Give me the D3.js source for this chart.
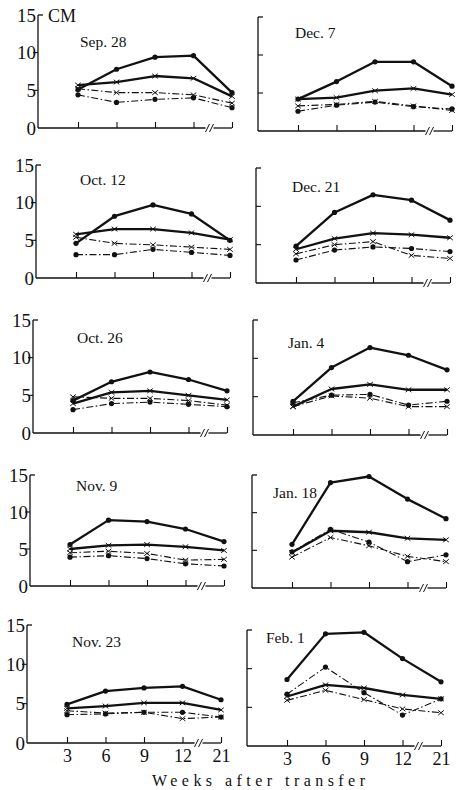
<!DOCTYPE html>
<html>
<head>
<meta charset="utf-8">
<script src="https://cdn.jsdelivr.net/npm/d3@7"></script>
<style>
  body { margin: 0; background: #fff; }
  svg { display: block; }
  text { font-family: "Liberation Serif", "DejaVu Serif", serif; fill: #111; }
</style>
</head>
<body>
<svg width="461" height="790"></svg>
<script>
// panels: left column top to bottom, then right column
var panels = ["Sep. 28", "Oct. 12", "Oct. 26", "Nov. 9", "Nov. 23",
              "Dec. 7", "Dec. 21", "Jan. 4", "Jan. 18", "Feb. 1"];
var weeks = ["3", "6", "9", "12", "21"];
var yTicks = [0, 5, 10, 15];

// solid line, filled dots
var seriesA = [
  [5.1, 7.8, 9.4, 9.6, 4.7],
  [4.6, 8.2, 9.7, 8.5, 5.0],
  [4.3, 6.8, 8.1, 7.1, 5.6],
  [5.6, 8.9, 8.7, 7.7, 6.0],
  [4.9, 6.6, 7.0, 7.2, 5.5],
  [4.2, 6.5, 9.1, 9.1, 5.9],
  [4.8, 9.2, 11.5, 10.8, 8.2],
  [4.4, 8.8, 11.4, 10.4, 8.5],
  [5.8, 14.0, 14.8, 11.8, 9.2],
  [8.6, 14.5, 14.7, 11.3, 8.3]
];
// solid line, crosses
var seriesB = [
  [5.7, 6.1, 6.9, 6.6, 4.2],
  [5.8, 6.5, 6.5, 6.0, 5.1],
  [3.9, 5.4, 5.6, 5.0, 4.4],
  [5.0, 5.5, 5.6, 5.3, 4.8],
  [4.4, 4.7, 5.1, 5.1, 4.2],
  [4.2, 4.4, 5.3, 5.6, 4.8],
  [4.4, 5.8, 6.5, 6.3, 5.9],
  [3.7, 6.0, 6.6, 5.9, 5.9],
  [4.7, 7.6, 7.4, 6.6, 6.4],
  [6.4, 7.9, 7.5, 6.6, 6.1]
];
// dash-dot line, crosses
var seriesC = [
  [5.2, 4.7, 4.7, 4.4, 3.3],
  [5.4, 4.6, 4.4, 4.1, 3.8],
  [4.8, 4.6, 4.6, 4.3, 3.7],
  [4.5, 4.7, 4.4, 3.5, 3.6],
  [4.1, 3.8, 3.9, 3.1, 3.3],
  [3.3, 3.5, 3.9, 3.3, 2.7],
  [3.8, 5.0, 5.4, 3.6, 3.2],
  [3.7, 5.1, 4.8, 3.7, 3.7],
  [4.1, 6.7, 5.6, 4.2, 3.5],
  [5.9, 7.2, 6.0, 4.8, 4.3]
];
// dash-dot line, filled dots
var seriesD = [
  [4.4, 3.4, 3.8, 4.0, 2.7],
  [3.1, 3.1, 3.8, 3.4, 3.0],
  [3.1, 3.9, 4.1, 3.8, 3.5],
  [3.9, 4.1, 3.7, 3.0, 2.7],
  [3.6, 3.7, 3.9, 3.9, 3.3],
  [2.6, 3.4, 3.8, 3.2, 2.9],
  [3.0, 4.3, 4.7, 4.5, 4.1],
  [4.2, 5.2, 5.3, 3.9, 4.4],
  [4.8, 7.8, 6.1, 3.5, 4.4],
  [6.7, 10.2, 6.9, 4.0, 6.1]
];

// panel frames (y-axis x, top of 15, zero line) and title anchors
var frames = [
  {x0: 38, top: 15, bottom: 128, tx: 80, ty: 47},
  {x0: 36, top: 165, bottom: 278, tx: 80, ty: 185},
  {x0: 33, top: 320, bottom: 433, tx: 77, ty: 343},
  {x0: 30, top: 475, bottom: 586, tx: 76, ty: 491},
  {x0: 27, top: 625, bottom: 743, tx: 72, ty: 647},
  {x0: 258, top: 17, bottom: 131, tx: 295, ty: 38},
  {x0: 256, top: 168, bottom: 283, tx: 292, ty: 192},
  {x0: 253, top: 320, bottom: 435, tx: 288, ty: 348},
  {x0: 252, top: 475, bottom: 588, tx: 273, ty: 498},
  {x0: 247, top: 630, bottom: 746, tx: 266, ty: 643}
];

var svg = d3.select("svg");
var ink = "#111";

var styles = [
  {data: seriesA, width: 2.3, dash: null, mark: "dot"},
  {data: seriesB, width: 2.3, dash: null, mark: "cross"},
  {data: seriesC, width: 1.1, dash: "7,2.5,1.5,2.5", mark: "cross"},
  {data: seriesD, width: 1.1, dash: "7,2.5,1.5,2.5", mark: "dot"}
];

panels.forEach(function(name, i) {
  var f = frames[i];
  var left = i < 5;
  var bottomRow = (i % 5) == 4;

  var x = d3.scalePoint()
      .domain(weeks)
      .range([f.x0 + 40, f.x0 + 194]);

  var y = d3.scaleLinear()
      .domain([0, 15])
      .range([f.bottom, f.top]);

  var g = svg.append("g").attr("class", "panel");

  // y axis line
  g.append("line")
      .attr("x1", f.x0).attr("x2", f.x0)
      .attr("y1", y(15)).attr("y2", y(0))
      .attr("stroke", ink).attr("stroke-width", 1.3);

  // top tick points inward, middle ticks outward on the left column
  g.append("line")
      .attr("x1", f.x0).attr("x2", f.x0 + 5)
      .attr("y1", y(15)).attr("y2", y(15))
      .attr("stroke", ink).attr("stroke-width", 1.3);

  [5, 10].forEach(function(v) {
    g.append("line")
        .attr("x1", f.x0).attr("x2", left ? f.x0 - 5 : f.x0 + 5)
        .attr("y1", y(v)).attr("y2", y(v))
        .attr("stroke", ink).attr("stroke-width", 1.1);
  });

  if (left) {
    var ya = g.append("g")
        .attr("transform", "translate(" + f.x0 + ",0)")
        .call(d3.axisLeft(y).tickValues(yTicks).tickSize(0).tickPadding(2));
    ya.select(".domain").remove();
    ya.selectAll("text")
        .style("font-size", "19px")
        .attr("font-family", null);
  }

  if (i == 0) {
    g.append("text")
        .attr("x", f.x0 + 10)
        .attr("y", y(15) + 7)
        .style("font-size", "18px")
        .text("CM");
  }

  // x axis with ticks pointing up
  var xa = g.append("g")
      .attr("transform", "translate(0," + f.bottom + ")")
      .call(d3.axisBottom(x).tickSizeInner(-6).tickSizeOuter(0).tickPadding(6)
        .tickFormat(bottomRow ? null : function() { return ""; }));
  xa.select(".domain").remove();
  xa.selectAll("line").attr("stroke", ink).attr("stroke-width", 1.1);
  xa.selectAll("text")
      .style("font-size", "18px")
      .attr("font-family", null);

  // axis line with a break between 12 and 21
  var bx = x("12") + 16;
  g.append("line")
      .attr("x1", f.x0).attr("x2", bx - 4)
      .attr("y1", f.bottom).attr("y2", f.bottom)
      .attr("stroke", ink).attr("stroke-width", 1.3);
  g.append("line")
      .attr("x1", bx + 4).attr("x2", x("21"))
      .attr("y1", f.bottom).attr("y2", f.bottom)
      .attr("stroke", ink).attr("stroke-width", 1.3);
  [-2, 2].forEach(function(o) {
    g.append("line")
        .attr("x1", bx + o - 2).attr("y1", f.bottom + 4)
        .attr("x2", bx + o + 2).attr("y2", f.bottom - 4)
        .attr("stroke", ink).attr("stroke-width", 1);
  });

  // title
  g.append("text")
      .attr("x", f.tx)
      .attr("y", f.ty)
      .style("font-size", "15.5px")
      .text(name);

  var line = d3.line()
      .x(function(d, j) { return x(weeks[j]); })
      .y(function(d) { return y(d); });

  styles.slice().reverse().forEach(function(s) {
    var vals = s.data[i];
    g.append("path")
        .datum(vals)
        .attr("d", line)
        .attr("fill", "none")
        .attr("stroke", ink)
        .attr("stroke-width", s.width)
        .attr("stroke-linejoin", "round")
        .attr("stroke-dasharray", s.dash);

    var m = g.selectAll(null)
        .data(vals)
        .enter().append("g")
        .attr("transform", function(d, j) {
          return "translate(" + x(weeks[j]) + "," + y(d) + ")";
        });

    if (s.mark == "dot") {
      m.append("circle").attr("r", 2.6).attr("fill", ink);
    } else {
      m.append("path")
          .attr("d", "M-2.8,-2.3L2.8,2.3M-2.8,2.3L2.8,-2.3")
          .attr("stroke", ink)
          .attr("stroke-width", 1)
          .attr("fill", "none");
    }
  });
});

svg.append("text")
    .attr("x", 152)
    .attr("y", 786)
    .attr("textLength", 213)
    .attr("lengthAdjust", "spacing")
    .style("font-size", "16px")
    .text("Weeks after transfer");
</script>
</body>
</html>
